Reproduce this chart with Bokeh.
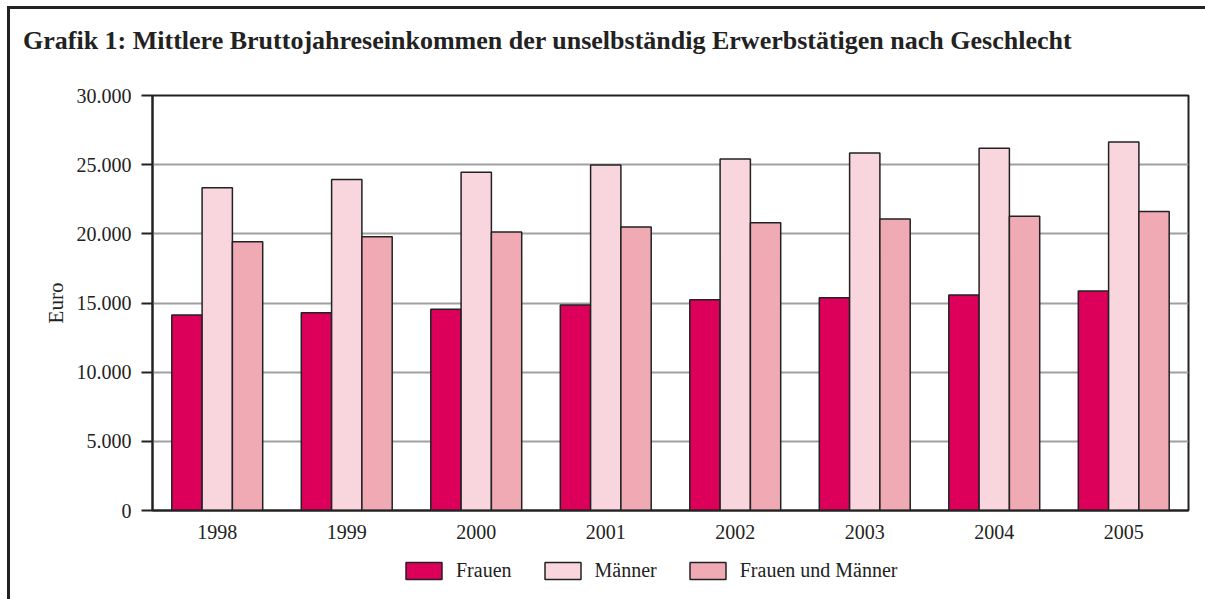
from bokeh.plotting import figure
from bokeh.layouts import column
from bokeh.models import (ColumnDataSource, FactorRange, Range1d, Legend, LegendItem,
                          FixedTicker, Div)
from bokeh.transform import dodge
from bokeh.embed import file_html
from bokeh.resources import INLINE

years = ["1998", "1999", "2000", "2001", "2002", "2003", "2004", "2005"]
frauen = [14140, 14300, 14540, 14860, 15240, 15380, 15580, 15870]
maenner = [23340, 23920, 24460, 24980, 25410, 25840, 26180, 26640]
gesamt = [19420, 19790, 20130, 20500, 20800, 21080, 21280, 21610]
series_names = ["Frauen", "Männer", "Frauen und Männer"]
colors = ["#DC005A", "#F9D6DD", "#F0AAB4"]
y_ticks = [0, 5000, 10000, 15000, 20000, 25000, 30000]
y_tick_labels = ["0", "5.000", "10.000", "15.000", "20.000", "25.000", "30.000"]
title_text = "Grafik 1: Mittlere Bruttojahreseinkommen der unselbständig Erwerbstätigen nach Geschlecht"

SERIF = "Liberation Serif"
DARK = "#222222"
W = 1187

# ---- title strip ----
title_html = ('<div style="padding:12px 0 0 8px; margin:0; white-space:nowrap; '
              "font-family:'Liberation Serif', serif; font-size:26px; line-height:30px; "
              'font-weight:bold; color:#222222;">' + title_text + '</div>')
p0 = Div(text=title_html, width=W, height=51)

# ---- main chart ----
source = ColumnDataSource(data=dict(years=years, frauen=frauen, maenner=maenner, gesamt=gesamt))

p = figure(x_range=FactorRange(*years, range_padding=0), y_range=Range1d(0, 30000),
           width=W, height=480, output_backend="svg", toolbar_location=None,
           min_border_left=142, min_border_right=9, min_border_top=25, min_border_bottom=40)

bw = 0.234
offsets = [-bw, 0, bw]
fields = ["frauen", "maenner", "gesamt"]
for off, fld, col in zip(offsets, fields, colors):
    p.vbar(x=dodge("years", off, range=p.x_range), top=fld, width=bw, source=source,
           fill_color=col, line_color=DARK, line_width=1.5)

p.outline_line_color = DARK
p.outline_line_width = 2
p.background_fill_color = "white"
p.border_fill_color = "white"

p.xgrid.grid_line_color = None
p.ygrid.grid_line_color = "#A0A0A0"
p.ygrid.grid_line_width = 2
p.ygrid.ticker = FixedTicker(ticks=y_ticks)

p.yaxis.ticker = FixedTicker(ticks=y_ticks)
p.yaxis.major_label_overrides = {t: l for t, l in zip(y_ticks, y_tick_labels)}
p.yaxis.minor_tick_line_color = None
p.yaxis.major_tick_in = 0
p.yaxis.major_tick_out = 11
p.yaxis.major_tick_line_color = DARK
p.yaxis.major_tick_line_width = 2
p.yaxis.axis_line_color = DARK
p.yaxis.axis_line_width = 2
p.yaxis.major_label_standoff = 10
p.yaxis.major_label_text_font = SERIF
p.yaxis.major_label_text_font_size = "20px"
p.yaxis.major_label_text_color = DARK
p.yaxis.axis_label = "Euro"
p.yaxis.axis_label_text_font = SERIF
p.yaxis.axis_label_text_font_size = "21px"
p.yaxis.axis_label_text_font_style = "normal"
p.yaxis.axis_label_text_color = DARK
p.yaxis.axis_label_standoff = 6

p.xaxis.major_tick_line_color = None
p.xaxis.minor_tick_line_color = None
p.xaxis.axis_line_color = DARK
p.xaxis.axis_line_width = 2
p.xaxis.major_label_standoff = 8
p.xaxis.major_label_text_font = SERIF
p.xaxis.major_label_text_font_size = "20px"
p.xaxis.major_label_text_color = DARK

# ---- legend strip (its bars lie below the visible y range, only the legend shows) ----
p2 = figure(width=W, height=55, x_range=FactorRange(*years, range_padding=0),
            y_range=Range1d(1e6, 2e6), output_backend="svg", toolbar_location=None,
            x_axis_location=None, y_axis_location=None,
            min_border=0, min_border_left=0, min_border_right=0,
            min_border_top=0, min_border_bottom=0)
p2.outline_line_color = None
p2.xgrid.grid_line_color = None
p2.ygrid.grid_line_color = None
p2.background_fill_color = "white"
p2.border_fill_color = "white"
leg_renderers = []
for off, fld, col in zip(offsets, fields, colors):
    leg_renderers.append(p2.vbar(x=dodge("years", off, range=p2.x_range), top=fld, width=bw,
                                 source=source, fill_color=col, line_color=DARK, line_width=1.5))
legend = Legend(items=[LegendItem(label=n, renderers=[r]) for n, r in zip(series_names, leg_renderers)],
                orientation="horizontal", location=(249, 23),
                glyph_width=45, glyph_height=21, label_standoff=10, spacing=28,
                label_text_font=SERIF, label_text_font_size="20px", label_text_color=DARK,
                background_fill_alpha=0, border_line_alpha=0, padding=0, margin=0)
p2.add_layout(legend)

layout = column(p0, p, p2, spacing=0)
layout.styles = {"margin-top": "6px", "margin-left": "7px",
                 "border-top": "3px solid #222222", "border-left": "3px solid #222222"}

open("out.html", "w").write(file_html(layout, INLINE))
